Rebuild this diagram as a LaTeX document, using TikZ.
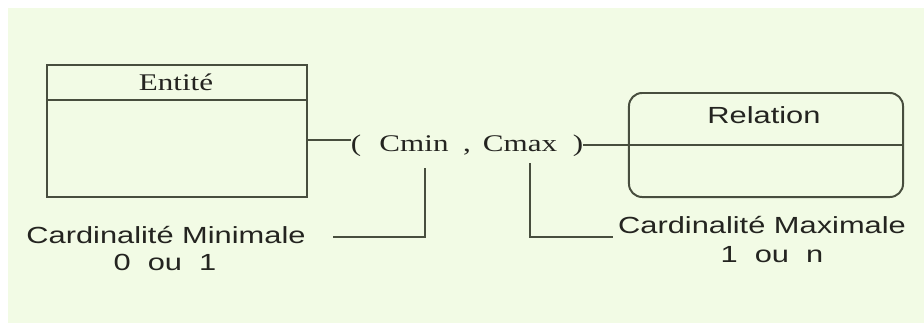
\documentclass[tikz,border=0pt]{standalone}
\usepackage{fontspec}
\usepackage{tikz}
\usetikzlibrary{positioning, calc}
\newfontfamily\timesfont[FakeStretch=1.3]{Liberation Serif}
\newfontfamily\arialfont[FakeStretch=1.32]{Liberation Sans}
\definecolor{bgcol}{RGB}{242,251,229}
\definecolor{linecol}{RGB}{72,78,62}
\definecolor{txtcol}{RGB}{36,36,32}
\tikzset{
    wire/.style={draw=linecol, line width=1.4pt},
    entbox/.style={rectangle, draw=linecol, line width=1.4pt, minimum width=6.5cm, minimum height=3.3cm},
    relbox/.style={rectangle, draw=linecol, line width=1.4pt, rounded corners=0.33cm, minimum width=6.85cm, minimum height=2.6cm},
    serif_text/.style={font=\timesfont\fontsize{17}{20}\selectfont, text=txtcol, inner sep=0pt, anchor=base},
    sans_text/.style={font=\arialfont\fontsize{16.6}{20}\selectfont, text=txtcol, inner sep=0pt, anchor=base}
}
\begin{document}
\begin{tikzpicture}[x=0.025cm, y=-0.025cm]
            % Background
            \useasboundingbox (0,0) rectangle (924,323);
            \fill[white] (0,0) rectangle (924,323);
            \fill[bgcol] (8,8) rectangle (924,323);

            % Boxes
            \node[entbox] (ent) at (177,131) {};
            \draw[wire] ([yshift=-0.9cm]ent.north west) -- ([yshift=-0.9cm]ent.north east);
            \node[relbox] (rel) at (766,145) {};

            % Titles
            \node[serif_text] (enttitle) at (176,90) {Entité};
            \node[sans_text] (reltitle) at (764,123) {Relation};

            % Cardinality couple
            \node[serif_text] (popen) at (356,151) {(};
            \node[serif_text] (cmin) at (414,151) {Cmin};
            \node[serif_text] (comma) at (467,151) {,};
            \node[serif_text] (cmax) at (520,151) {Cmax};
            \node[serif_text] (pclose) at (578,151) {)};

            % Labels
            \node[sans_text] (cardmin) at (166,243) {Cardinalité Minimale};
            \node[sans_text] (cardminval) at (165,270) {0~~ou~~1};
            \node[sans_text] (cardmax) at (762,233) {Cardinalité Maximale};
            \node[sans_text] (cardmaxval) at (772,262) {1~~ou~~n};

            % Links
            \draw[wire] (ent.east |- 0,140) -- (popen.west |- 0,140);
            \draw[wire] (pclose.east) -- (rel.east |- pclose.east);
            \coordinate (mintop) at (425,168);
            \coordinate (minend) at (333,237);
            \coordinate (maxtop) at (530,163);
            \coordinate (maxend) at (613,237);
            \draw[wire] (mintop) |- (minend);
            \draw[wire] (maxtop) |- (maxend);
\end{tikzpicture}
\end{document}
